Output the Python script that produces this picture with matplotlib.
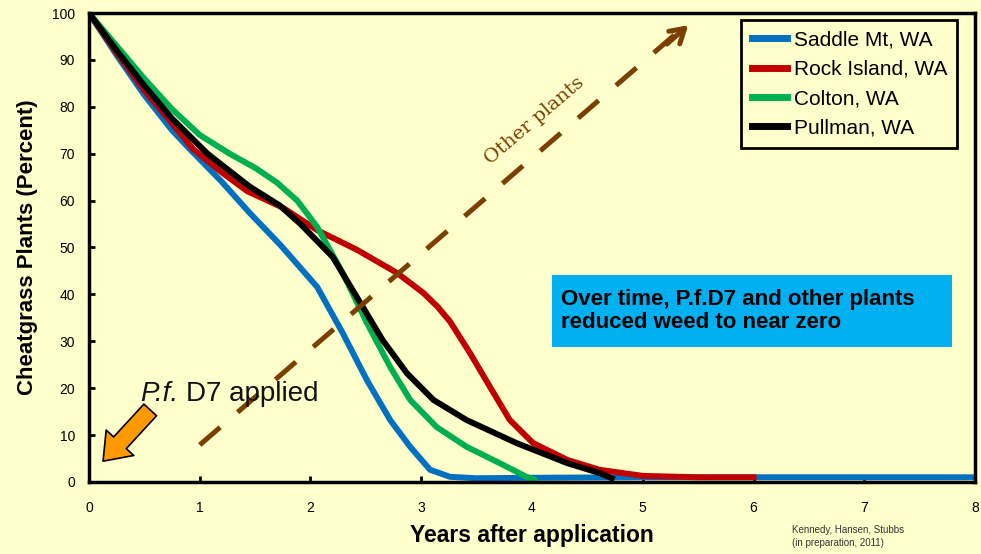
import numpy as np
import matplotlib
matplotlib.use("Agg")
import matplotlib.pyplot as plt
from matplotlib.patches import Rectangle

plt.rcParams['font.family'] = ['Liberation Sans', 'DejaVu Sans']

# values
years_blue = [0, 0.25, 0.5, 0.75, 0.91, 1.2, 1.45, 1.73, 2.06, 2.29, 2.51, 2.72, 2.9,
              3.08, 3.26, 3.5, 4, 5, 6, 7, 8]
saddle_mt = [100, 91, 82.5, 75, 71, 64, 57.4, 50.5, 41.6, 31.8, 21.7, 13.2, 7.5,
             2.6, 1.1, 0.8, 0.9, 1, 1, 1, 1]

years_red = [0, 0.25, 0.5, 0.75, 0.94, 1.2, 1.43, 1.75, 2.06, 2.42, 2.78, 3.02, 3.15, 3.26,
             3.44, 3.62, 3.8, 4.01, 4.32, 4.61, 5, 5.5, 6]
rock_island = [100, 91.5, 83.5, 76.5, 71, 66, 62, 58.5, 53.7, 49.5, 44.6, 40.3, 37.3, 34.2,
               27.5, 20.3, 13.2, 8.3, 4.7, 2.6, 1.3, 1, 1]

years_green = [0, 0.25, 0.5, 0.75, 1.0, 1.27, 1.5, 1.7, 1.88, 2.06, 2.29, 2.51, 2.72, 2.9,
               3.14, 3.41, 3.71, 3.95, 4.02]
colton = [100, 93, 86, 79.5, 74, 70, 67, 63.8, 60, 54.4, 44.6, 33.9, 24.5, 17.5,
          11.7, 7.5, 4, 1.1, 0.5]

years_black = [0, 0.25, 0.5, 0.75, 1.07, 1.45, 1.72, 1.91, 2.2, 2.45, 2.65, 2.87, 3.11,
               3.41, 3.86, 4.32, 4.61, 4.72]
pullman = [100, 92, 84.5, 77.5, 70, 63, 59, 55, 48, 38.2, 30.3, 23.2, 17.5,
           13.2, 8.3, 4, 1.9, 0.8]

labels = ['Saddle Mt, WA', 'Rock Island, WA', 'Colton, WA', 'Pullman, WA']
xticks = np.arange(0, 9, 1)
yticks = np.arange(0, 110, 10)

bg = '#FFFFCC'
fig = plt.figure(figsize=(9.81, 5.54), dpi=100, facecolor=bg)
ax = fig.add_axes([0.0907, 0.130, 0.9032, 0.8465], facecolor=bg)

lw = 4.3
ax.plot(years_blue, saddle_mt, color='#0070C0', lw=lw, label=labels[0], solid_joinstyle='round')
ax.plot(years_red, rock_island, color='#C00000', lw=lw, label=labels[1], solid_joinstyle='round')
ax.plot(years_green, colton, color='#00B050', lw=lw, label=labels[2], solid_joinstyle='round')
ax.plot(years_black, pullman, color='black', lw=lw, label=labels[3], solid_joinstyle='round')

ax.set_xlim(0, 8)
ax.set_ylim(0, 100)
ax.set_xticks(xticks)
ax.set_yticks(yticks)
ax.tick_params(direction='in', length=4, width=2, labelsize=10, colors='black')
ax.tick_params(axis='x', pad=14)
ax.tick_params(axis='y', pad=10)
for s in ax.spines.values():
    s.set_linewidth(2.5)
    s.set_color('black')

ax.set_xlabel('Years after application', fontsize=16.5, fontweight='bold', labelpad=6)
ax.set_ylabel('Cheatgrass Plants (Percent)', fontsize=16, fontweight='bold', labelpad=10)

leg = ax.legend(loc='upper right', bbox_to_anchor=(0.98, 0.985), fontsize=15,
                frameon=True, fancybox=False, handlelength=1.7, handletextpad=0.3,
                labelspacing=0.5, borderpad=0.5, borderaxespad=0)
leg.get_frame().set_edgecolor('black')
leg.get_frame().set_linewidth(2)
leg.get_frame().set_facecolor(bg)
leg.get_frame().set_alpha(1)
for h in leg.get_lines():
    h.set_linewidth(5)

# brown dashed "other plants" arrow
brown = '#7B3F00'
ax.plot([1.0, 5.3], [7.9, 95.6], color=brown, lw=3.6, dashes=(5.4, 4.6), clip_on=False)
ax.annotate('', xy=(5.43, 97.8), xytext=(5.2, 93.0),
            arrowprops=dict(arrowstyle='->,head_length=1.0,head_width=0.6', color=brown, lw=3.6),
            annotation_clip=False)
ax.text(4.02, 77.0, 'Other plants', color=brown, fontsize=14, rotation=40.5,
        ha='center', va='center', family=['DejaVu Serif'])

# orange arrow for the application
ax.annotate('', xy=(0.11, 4.0), xytext=(0.57, 15.8),
            arrowprops=dict(arrowstyle='simple,head_length=0.9,head_width=1.35,tail_width=0.62',
                            fc='#FF9900', ec='black', lw=1.2, mutation_scale=20))
t1 = ax.text(0.46, 16.0, 'P.f.', fontsize=20, fontstyle='italic', ha='left', va='bottom',
             color='#111111')
ax.annotate('D7 applied', xy=(1, 0), xycoords=t1, xytext=(6, 0), textcoords='offset points',
            fontsize=20, ha='left', va='bottom', color='#111111')

# blue note box
ax.add_patch(Rectangle((4.18, 28.8), 3.61, 15.3, fc='#00B0F0', ec='none', zorder=3))
ax.text(4.26, 36.5, 'Over time, P.f.D7 and other plants\nreduced weed to near zero',
        fontsize=16, fontweight='bold', ha='left', va='center', linespacing=1.15, zorder=4)

fig.text(0.807, 0.052, 'Kennedy, Hansen, Stubbs\n(in preparation, 2011)', fontsize=7,
         ha='left', va='top', color='#333333', linespacing=1.3)

fig.savefig('out.png', dpi=100, facecolor=bg)
